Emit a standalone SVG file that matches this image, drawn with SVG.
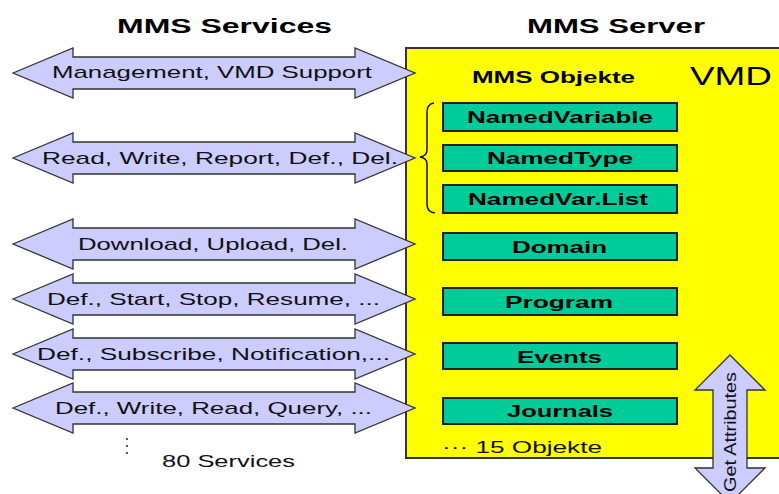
<svg xmlns="http://www.w3.org/2000/svg" xmlns:xlink="http://www.w3.org/1999/xlink" width="779" height="494" viewBox="0 0 779 494">
<style>
.title{font-family:"Liberation Sans",Arial,sans-serif;font-weight:bold;font-size:21px;fill:#000}
.lbl{font-family:"Liberation Sans",Arial,sans-serif;font-size:17px;fill:#111}
.obj{font-family:"Liberation Sans",Arial,sans-serif;font-weight:bold;font-size:16px;fill:#000}
.arrow{fill:#CCCCFF;stroke:#333;stroke-width:1.3}
.gbox{fill:#00CC99;stroke:#222;stroke-width:2}
</style>
<defs>
<path id="harrow" class="arrow" d="M13,0 L73,-25 L73,-16 L355,-16 L355,-25 L415,0 L355,25 L355,16 L73,16 L73,25 Z"/>
</defs>
<rect x="0" y="0" width="779" height="494" fill="#fff"/>
<g id="titles">
<text class="title" x="117" y="33" textLength="215" lengthAdjust="spacingAndGlyphs">MMS Services</text>
<text class="title" x="527" y="33" textLength="178" lengthAdjust="spacingAndGlyphs">MMS Server</text>
</g>
<g id="vmd">
<rect x="406" y="48" width="380" height="410" fill="#FFFF00" stroke="#333" stroke-width="2"/>
<text x="472" y="83" class="obj" font-size="16" textLength="163" lengthAdjust="spacingAndGlyphs">MMS Objekte</text>
<text x="690" y="85" font-family="Liberation Sans,Arial,sans-serif" font-size="26" textLength="82" lengthAdjust="spacingAndGlyphs">VMD</text>
<text x="442" y="453" class="lbl" textLength="160" lengthAdjust="spacingAndGlyphs">··· 15 Objekte</text>
<path d="M434,103 Q427,104 427,112 L427,150 Q427,156 420,157 Q427,158 427,164 L427,204 Q427,212 435,213" fill="none" stroke="#111" stroke-width="1.5"/>
</g>
<g id="obj-namedvariable"><rect class="gbox" x="443" y="103" width="234" height="28"/><text class="obj" x="467" y="123" textLength="186" lengthAdjust="spacingAndGlyphs">NamedVariable</text></g>
<g id="obj-namedtype"><rect class="gbox" x="443" y="145" width="234" height="26"/><text class="obj" x="487" y="164" textLength="146" lengthAdjust="spacingAndGlyphs">NamedType</text></g>
<g id="obj-namedvarlist"><rect class="gbox" x="443" y="185" width="234" height="28"/><text class="obj" x="468" y="205" textLength="180" lengthAdjust="spacingAndGlyphs">NamedVar.List</text></g>
<g id="obj-domain"><rect class="gbox" x="443" y="233" width="234" height="27"/><text class="obj" x="512" y="253" textLength="95" lengthAdjust="spacingAndGlyphs">Domain</text></g>
<g id="obj-program"><rect class="gbox" x="443" y="288" width="234" height="27"/><text class="obj" x="505" y="308" textLength="108" lengthAdjust="spacingAndGlyphs">Program</text></g>
<g id="obj-events"><rect class="gbox" x="443" y="343" width="234" height="26"/><text class="obj" x="517" y="363" textLength="85" lengthAdjust="spacingAndGlyphs">Events</text></g>
<g id="obj-journals"><rect class="gbox" x="443" y="398" width="234" height="26"/><text class="obj" x="507" y="417" textLength="106" lengthAdjust="spacingAndGlyphs">Journals</text></g>
<g id="connectors">
<g id="svc-management"><use xlink:href="#harrow" href="#harrow" y="73"/><text class="lbl" x="52" y="78" textLength="320" lengthAdjust="spacingAndGlyphs">Management, VMD Support</text></g>
<g id="svc-variables"><use xlink:href="#harrow" href="#harrow" y="158"/><text class="lbl" x="42" y="164" textLength="356" lengthAdjust="spacingAndGlyphs">Read, Write, Report, Def., Del.</text></g>
<g id="svc-domain"><use xlink:href="#harrow" href="#harrow" y="244"/><text class="lbl" x="78" y="250" textLength="270" lengthAdjust="spacingAndGlyphs">Download, Upload, Del.</text></g>
<g id="svc-program"><use xlink:href="#harrow" href="#harrow" y="299"/><text class="lbl" x="47" y="305" textLength="333" lengthAdjust="spacingAndGlyphs">Def., Start, Stop, Resume, ...</text></g>
<g id="svc-events"><use xlink:href="#harrow" href="#harrow" y="354"/><text class="lbl" x="37" y="360" textLength="353" lengthAdjust="spacingAndGlyphs">Def., Subscribe, Notification,...</text></g>
<g id="svc-journals"><use xlink:href="#harrow" href="#harrow" y="408"/><text class="lbl" x="55" y="414" textLength="317" lengthAdjust="spacingAndGlyphs">Def., Write, Read, Query, ...</text></g>
<g id="svc-getattributes">
<path class="arrow" d="M730,355 L765,390 L747,390 L747,468 L765,468 L730,503 L695,468 L713,468 L713,390 L695,390 Z"/>
<text class="lbl" transform="translate(736,492) rotate(-90)" x="0" y="0" textLength="120" lengthAdjust="spacingAndGlyphs">Get Attributes</text>
</g>
</g>
<g id="more">
<circle cx="127" cy="439" r="1.1" fill="#333"/><circle cx="127" cy="446" r="1.1" fill="#333"/><circle cx="127" cy="453" r="1.1" fill="#333"/>
<text class="lbl" x="162" y="467" textLength="133" lengthAdjust="spacingAndGlyphs">80 Services</text>
</g>
</svg>
